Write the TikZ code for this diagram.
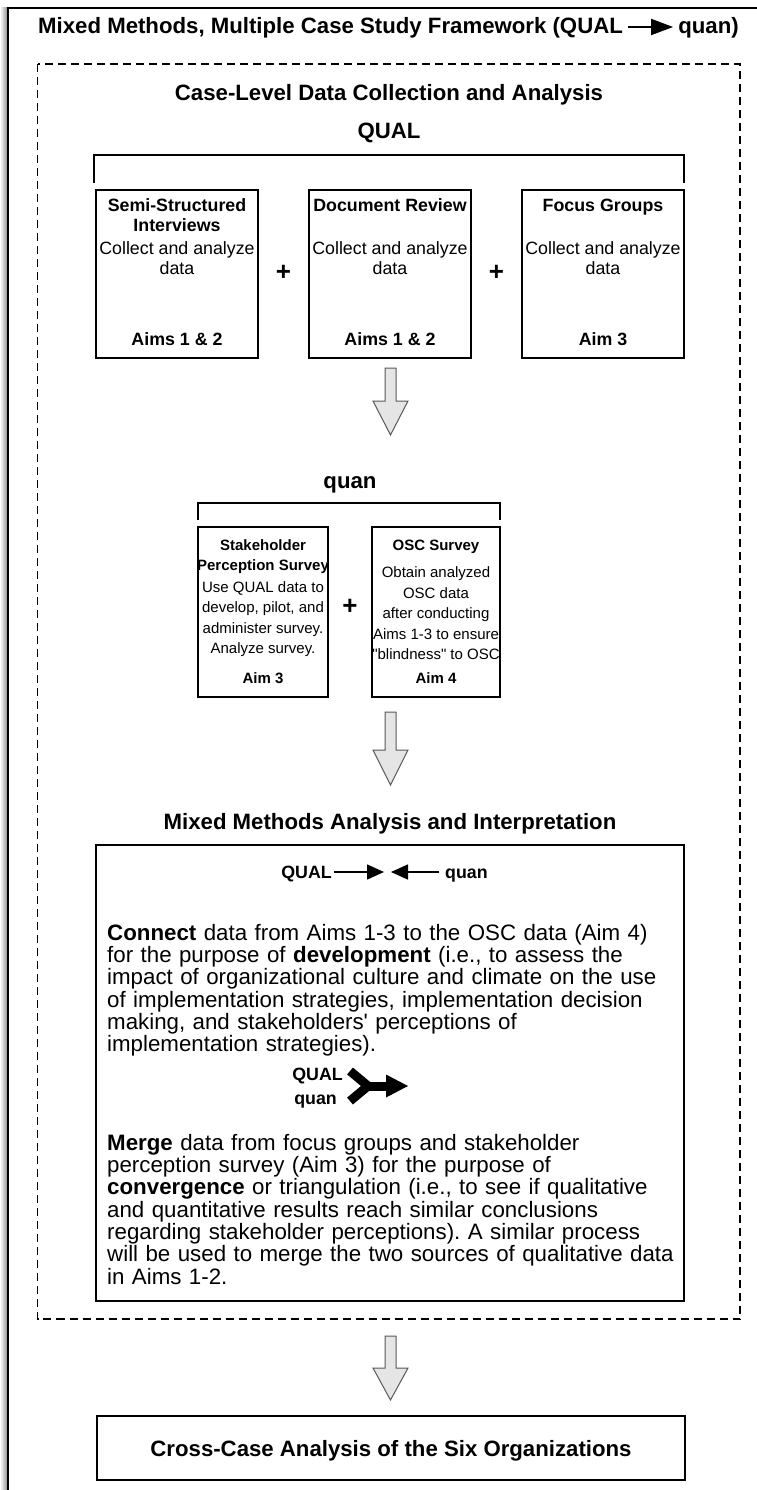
\documentclass[tikz,border=0pt]{standalone}
\usepackage{fontspec}
\setmainfont{Liberation Sans}[Ligatures=TeXOff]
\usetikzlibrary{arrows.meta}
\newcommand{\myfsbox}{\fontsize{17.8}{20.2}\selectfont}
\newcommand{\myfssmall}{\fontsize{15}{20.5}\selectfont}
\newcommand{\myfshead}{\fontsize{22.2}{25}\selectfont\bfseries}
\newcommand{\myfspara}{\fontsize{22.3}{22.3}\selectfont}
\frenchspacing
\begin{document}
\frenchspacing
\begin{tikzpicture}[x=1pt,y=-1pt,
  box/.style={draw=black, line width=1.6pt, inner sep=0pt},
  hd/.style={font=\myfsbox\bfseries, align=center, inner sep=0pt},
  bd/.style={font=\myfsbox, align=center, inner sep=0pt},
  shd/.style={font=\myfssmall\bfseries, align=center, inner sep=0pt},
  sbd/.style={font=\myfssmall, align=center, inner sep=0pt},
  heading/.style={font=\myfshead, inner sep=0pt},
  plussign/.style={font=\fontsize{26}{26}\selectfont\bfseries, inner sep=0pt},
  brk/.style={draw=black, line width=1.8pt},
  blockarr/.style={draw=black!65, fill=black!10, line width=1pt, line join=miter},
  smallarr/.style={draw=black, line width=1.5pt, -{Triangle[length=17pt,width=15pt]}},
  para/.style={font=\myfspara, align=left, text width=580pt, inner sep=0pt, anchor=north west},
  dashbox/.style={draw=black, line width=1.5pt, dash pattern=on 8pt off 5pt},
]
\useasboundingbox (0,0) rectangle (756,1490);
% outer frame with shadow
\shade[left color=white, right color=black!45] (0,8) rectangle (7.5,1490);
\draw[line width=1.5pt] (8,1495) -- (8,8) -- (762,8);

% title
\node[heading, anchor=base west] (title) at (38,34) {Mixed Methods, Multiple Case Study Framework (QUAL};
\coordinate (ta) at ([xshift=5pt,yshift=7pt]title.base east);
\coordinate (tb) at ([xshift=50pt,yshift=7pt]title.base east);
\draw[line width=2pt, -{Triangle[length=22pt,width=16pt]}] (ta) -- (tb);
\node[heading, anchor=base west] (titleq) at ([xshift=55pt]title.base east) {quan)};

% dashed case-level frame
\draw[dashbox] (37.5,64) rectangle (740,1319);
\node[heading, anchor=base] (caselevel) at (389,101) {Case-Level Data Collection and Analysis};

% QUAL part
\node[heading, anchor=base] (qual) at (389,139) {QUAL};
\coordinate (qbl) at (94,183);
\coordinate (qtl) at (94,155);
\coordinate (qtr) at (684,155);
\coordinate (qbr) at (684,183);
\draw[brk] (qbl) -- (qtl) -- (qtr) -- (qbr);

\node[box, minimum width=162pt, minimum height=168pt] (semi) at (177,274) {};
\node[box, minimum width=162pt, minimum height=168pt] (doc) at (390,274) {};
\node[box, minimum width=162pt, minimum height=168pt] (focus) at (603,274) {};

\node[hd] (semiH) at (177,215.2) {Semi-Structured\\Interviews};
\node[bd] (semiB) at (177,258.2) {Collect and analyze\\data};
\node[hd] (semiA) at (177,339) {Aims 1 \& 2};

\node[hd] (docH) at (390,205) {Document Review};
\node[bd] (docB) at (390,258.2) {Collect and analyze\\data};
\node[hd] (docA) at (390,339) {Aims 1 \& 2};

\node[hd] (focH) at (603,207) {Focus Groups};
\node[bd] (focB) at (603,258.2) {Collect and analyze\\data};
\node[hd] (focA) at (603,339) {Aim 3};

\node[plussign] (p1) at (283.5,273) {+};
\node[plussign] (p2) at (496.5,273) {+};

% arrow 1
\draw[blockarr] (385,368) -- (396,368) -- (396,401) -- (408,401) -- (390.5,435) -- (373,401) -- (385,401) -- cycle;

% quan part
\node[heading, anchor=base] (quan) at (350,488) {quan};
\coordinate (nbl) at (198,520);
\coordinate (ntl) at (198,503);
\coordinate (ntr) at (500,503);
\coordinate (nbr) at (500,520);
\draw[brk] (nbl) -- (ntl) -- (ntr) -- (nbr);

\node[box, minimum width=130pt, minimum height=170pt] (stake) at (263,612) {};
\node[box, minimum width=128pt, minimum height=170pt] (osc) at (436,612) {};

\node[shd] (stakeH) at (263,556.5) {Stakeholder\\Perception Survey};
\node[sbd] (stakeB) at (263,619) {Use QUAL data to\\develop, pilot, and\\administer survey.\\Analyze survey.};
\node[shd] (stakeA) at (263,678) {Aim 3};

\node[shd] (oscH) at (436,546.5) {OSC Survey};
\node[sbd] (oscB) at (436,613.5) {Obtain analyzed\\OSC data\\after conducting\\Aims 1-3 to ensure\\"blindness" to OSC};
\node[shd] (oscA) at (436,678) {Aim 4};

\node[plussign] (p3) at (350,607) {+};

% arrow 2
\draw[blockarr] (385,712) -- (396,712) -- (396,750) -- (408,750) -- (390.5,785) -- (373,750) -- (385,750) -- cycle;

% mixed methods analysis
\node[heading, anchor=base] (mmhead) at (390,829) {Mixed Methods Analysis and Interpretation};
\node[box, minimum width=588pt, minimum height=456pt] (mmbox) at (390,1073) {};

\node[hd, anchor=base east] (hqual) at (332,878.4) {QUAL};
\node[hd, anchor=base west] (hquan) at (445,878.4) {quan};
\coordinate (ha1) at (334,872);
\coordinate (ha2) at (384,872);
\coordinate (hb1) at (439,872);
\coordinate (hb2) at (391,872);
\draw[smallarr] (ha1) -- (ha2);
\draw[smallarr] (hb1) -- (hb2);

\node[para] (para1) at (107,924) {\textbf{Connect} data from Aims 1-3 to the OSC data (Aim 4)\\
for the purpose of \textbf{development} (i.e., to assess the\\
impact of organizational culture and climate on the use\\
of implementation strategies, implementation decision\\
making, and stakeholders' perceptions of\\
implementation strategies).};

\node[hd, anchor=base east] (mqual) at (343,1080.4) {QUAL};
\node[hd, anchor=base east] (mquan) at (337,1104) {quan};
\draw[line width=9pt, line join=miter] (350,1071) -- (368,1086) -- (350,1101);
\draw[line width=9pt] (364,1086) -- (388,1086);
\fill (386,1074.5) -- (408,1086) -- (386,1097.5) -- cycle;

\node[para] (para2) at (107,1134) {\textbf{Merge} data from focus groups and stakeholder\\
perception survey (Aim 3) for the purpose of\\
\textbf{convergence} or triangulation (i.e., to see if qualitative\\
and quantitative results reach similar conclusions\\
regarding stakeholder perceptions). A similar process\\
will be used to merge the two sources of qualitative data\\
in Aims 1-2.};

% arrow 3
\draw[blockarr] (385,1336) -- (396,1336) -- (396,1368) -- (408,1368) -- (390.5,1400) -- (373,1368) -- (385,1368) -- cycle;

% cross-case
\node[box, minimum width=588pt, minimum height=64pt] (cross) at (391,1448) {};
\node[heading, anchor=base] (crossT) at (391,1456) {Cross-Case Analysis of the Six Organizations};
\end{tikzpicture}
\end{document}
